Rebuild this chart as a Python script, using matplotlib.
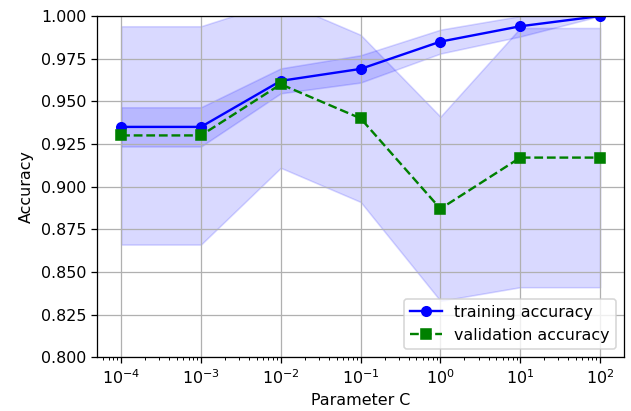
import matplotlib

matplotlib.use("Agg")

import matplotlib.pyplot as plt
import numpy as np

param_range = [0.0001, 0.001, 0.01, 0.1, 1.0, 10.0, 100.0]
train_mean = [0.935, 0.935, 0.962, 0.969, 0.985, 0.994, 1.000]
train_std = [0.0115, 0.0115, 0.0073, 0.0080, 0.0070, 0.0060, 0.0]
test_mean = [0.930, 0.930, 0.960, 0.940, 0.887, 0.917, 0.917]
test_std = [0.064, 0.064, 0.049, 0.049, 0.054, 0.076, 0.076]

train_mean = np.array(train_mean)
train_std = np.array(train_std)
test_mean = np.array(test_mean)
test_std = np.array(test_std)

DPI = 114
fig, ax = plt.subplots(figsize=(631 / DPI, 411 / DPI), dpi=DPI)
fig.subplots_adjust(left=0.154, right=0.989, top=0.961, bottom=0.131)

ax.plot(param_range, train_mean, color="blue", marker="o",
        markersize=6, label="training accuracy")
ax.fill_between(param_range, train_mean + train_std, train_mean - train_std,
                alpha=0.15, color="blue")

ax.plot(param_range, test_mean, color="green", linestyle="--", marker="s",
        markersize=6, label="validation accuracy")
ax.fill_between(param_range, test_mean + test_std, test_mean - test_std,
                alpha=0.15, color="blue")

ax.grid(True)
ax.set_xscale("log")
ax.legend(loc="lower right")
ax.set_xlabel("Parameter C")
ax.set_ylabel("Accuracy")
ax.set_ylim([0.8, 1.0])

fig.savefig("out.png", dpi=DPI)
